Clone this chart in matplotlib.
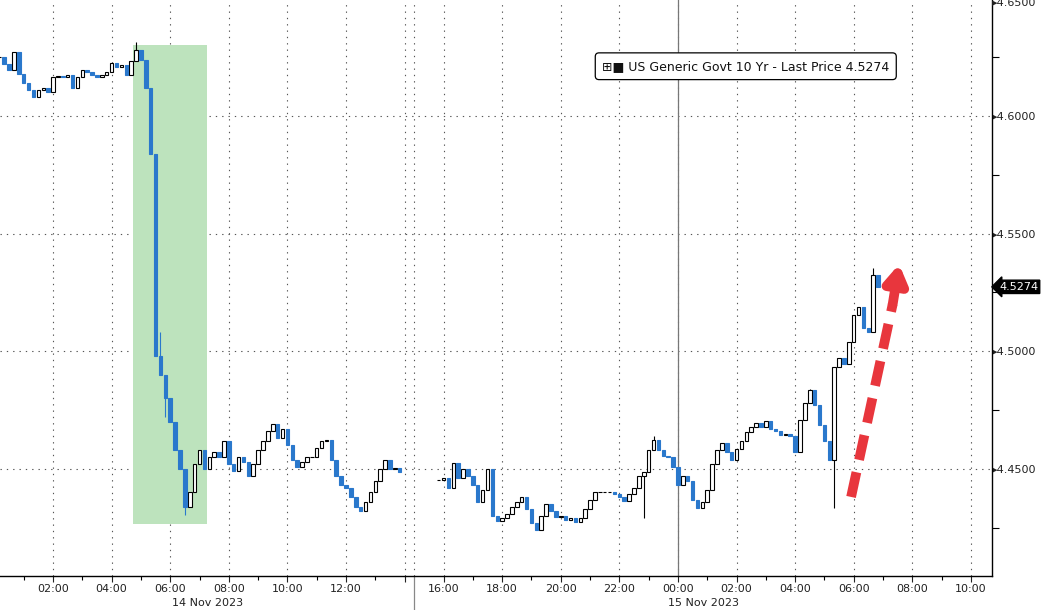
import matplotlib.pyplot as plt
import matplotlib.transforms as mtransforms
from matplotlib.patches import Rectangle
import numpy as np
import pandas as pd

# --- data: 10-min closes of US 10Y yield, two sessions ---
closes_1 = [
    4.6250, 4.6220, 4.6195, 4.6270, 4.6180, 4.6140, 4.6110, 4.6080, 4.6110, 4.6120,
    4.6100, 4.6165, 4.6170, 4.6165, 4.6175, 4.6120, 4.6165, 4.6195, 4.6185, 4.6175,
    4.6165, 4.6175, 4.6185, 4.6225, 4.6210, 4.6215, 4.6175, 4.6235, 4.6280, 4.6240,
    4.6120, 4.5840, 4.4980, 4.4900, 4.4800, 4.4700, 4.4580, 4.4500, 4.4340, 4.4400,
    4.4520, 4.4580, 4.4500, 4.4550, 4.4570, 4.4550, 4.4620, 4.4520, 4.4490, 4.4550,
    4.4530, 4.4470, 4.4520, 4.4580, 4.4620, 4.4660, 4.4690, 4.4630, 4.4670, 4.4600,
    4.4540, 4.4510, 4.4530, 4.4550, 4.4550, 4.4590, 4.4620, 4.4625, 4.4540, 4.4470,
    4.4430, 4.4420, 4.4380, 4.4340, 4.4320, 4.4360, 4.4400, 4.4450, 4.4500, 4.4540,
    4.4500, 4.4505, 4.4485]
closes_2 = [
    4.4455, 4.4460, 4.4420, 4.4525, 4.4460, 4.4500, 4.4470, 4.4430, 4.4360, 4.4410,
    4.4500, 4.4300, 4.4280, 4.4290, 4.4310, 4.4340, 4.4360, 4.4380, 4.4330, 4.4270,
    4.4240, 4.4300, 4.4350, 4.4320, 4.4295, 4.4300, 4.4285, 4.4290, 4.4275, 4.4290,
    4.4330, 4.4370, 4.4400, 4.4400, 4.4400, 4.4400, 4.4395, 4.4380, 4.4365, 4.4395,
    4.4420, 4.4470, 4.4485, 4.4580, 4.4625, 4.4580, 4.4555, 4.4550, 4.4510, 4.4430,
    4.4470, 4.4450, 4.4370, 4.4335, 4.4360, 4.4410, 4.4520, 4.4580, 4.4610, 4.4570,
    4.4540, 4.4585, 4.4620, 4.4655, 4.4680, 4.4695, 4.4680, 4.4705, 4.4670, 4.4660,
    4.4645, 4.4650, 4.4640, 4.4570, 4.4710, 4.4780, 4.4835, 4.4770, 4.4685, 4.4620,
    4.4540, 4.4935, 4.4970, 4.4945, 4.5040, 4.5155, 4.5190, 4.5100, 4.5080, 4.5325,
    4.5274]
# (bar index, low, high) for visible wicks
wicks_1 = [(28, None, 4.6315), (33, None, 4.5080), (34, 4.4720, None), (38, 4.4305, None)]
wicks_2 = [(42, 4.4290, None), (44, None, 4.4640), (76, None, 4.4840),
           (81, 4.4335, None), (89, None, 4.5355)]

start_1 = '2023-11-14 00:10'
start_2 = '2023-11-14 15:50'
last_price = 4.5274

# session break on the time axis (hours since 14 Nov 00:00)
BREAK_START = 14.33
BREAK_LEN = 0.67

highlight_t = (4.73, 7.26)
highlight_y = (4.4266, 4.6302)

tick_hours = [2, 4, 6, 8, 10, 12, 14, 16, 18, 20, 22, 24, 26, 28, 30, 32, 34]
minor_hours = [1, 3, 5, 7, 9, 11, 13, 17, 19, 21, 23, 25, 27, 29, 31, 33]
y_major = [4.45, 4.50, 4.55, 4.60]
y_minor = [4.425, 4.475, 4.525, 4.575, 4.625]

DOWN_COL = '#2a78cc'


def compress(h):
    h = np.asarray(h, dtype=float)
    return np.where(h < BREAK_START, h, h - BREAK_LEN)


def hours_since(start, n):
    idx = pd.date_range(start, periods=n, freq='10min')
    return ((idx - pd.Timestamp('2023-11-14')) / pd.Timedelta(hours=1)).values


fig = plt.figure(figsize=(10.42, 6.10), dpi=100)
ax = fig.add_axes([0, 34 / 610, 992 / 1042, 576 / 610])

ax.add_patch(Rectangle((float(compress(highlight_t[0])), highlight_y[0]),
                       highlight_t[1] - highlight_t[0], highlight_y[1] - highlight_y[0],
                       facecolor='#bde3bd', edgecolor='none', zorder=1))


def draw_candles(start, closes, wicks):
    c = np.array(closes)
    o = np.r_[c[0], c[:-1]]
    x = compress(hours_since(start, len(c)))
    hi = np.maximum(o, c)
    lo = np.minimum(o, c)
    for i, l, h in wicks:
        if l is not None:
            lo[i] = l
        if h is not None:
            hi[i] = h
    up = c >= o
    w = 0.12
    ax.vlines(x[up], lo[up], hi[up], color='black', lw=0.8, zorder=3)
    ax.vlines(x[~up], lo[~up], hi[~up], color=DOWN_COL, lw=0.8, zorder=3)
    ax.bar(x[up], (c - o)[up], bottom=o[up], width=w, facecolor='white',
           edgecolor='black', linewidth=0.8, zorder=4)
    ax.bar(x[~up], (c - o)[~up], bottom=o[~up], width=w, facecolor=DOWN_COL,
           edgecolor=DOWN_COL, linewidth=0.8, zorder=4)


draw_candles(start_1, closes_1, wicks_1)
draw_candles(start_2, closes_2, wicks_2)

x_lo, x_hi = 0.19, 34.05
ax.set_xlim(x_lo, x_hi)
ax.set_ylim(4.4045, 4.6493)

# grid and separators
grid_kw = dict(color='#555555', lw=0.8, ls=(0, (1.2, 4.5)), zorder=0)
for h in tick_hours:
    ax.axvline(float(compress(h)), **grid_kw)
ax.axvline(BREAK_START, **grid_kw)
for v in y_major:
    ax.axhline(v, **grid_kw)
ax.axvline(float(compress(24)), color='#777777', lw=0.9, zorder=0.5)
trans = mtransforms.blended_transform_factory(ax.transData, ax.transAxes)
ax.plot([BREAK_START, BREAK_START], [0, -0.06], color='#888888', lw=0.9,
        transform=trans, clip_on=False)

# x axis
ax.set_xticks(compress(tick_hours))
ax.set_xticklabels(['' if h == 14 else '%02d:00' % (h % 24) for h in tick_hours])
ax.set_xticks(compress(minor_hours), minor=True)
ax.tick_params(axis='x', which='major', length=4, width=0.8, labelsize=8, pad=1.5,
               colors='#222222')
ax.tick_params(axis='x', which='minor', length=3, width=0.8)

date_trans = mtransforms.blended_transform_factory(ax.transData, fig.transFigure)
ax.text((x_lo + BREAK_START) / 2, 0.003, '14 Nov 2023', transform=date_trans,
        ha='center', va='bottom', fontsize=8, color='#222222')
ax.text((BREAK_START + x_hi) / 2, 0.003, '15 Nov 2023', transform=date_trans,
        ha='center', va='bottom', fontsize=8, color='#222222')

# y axis on the right
ax.yaxis.tick_right()
ax.set_yticks(y_major)
ax.set_yticklabels(['\u25b8%.4f' % v for v in y_major])
ax.set_yticks(y_minor, minor=True)
ax.tick_params(axis='y', which='major', length=0, pad=0, labelsize=8, colors='#222222')
ax.tick_params(axis='y', which='minor', length=5, width=0.8)
ytrans = mtransforms.blended_transform_factory(ax.transAxes, ax.transData)
ax.text(1.0, 4.6480, '\u25b84.6500', transform=ytrans, ha='left', va='center',
        fontsize=8, color='#222222', clip_on=False)

for s in ['top', 'left']:
    ax.spines[s].set_visible(False)
ax.spines['right'].set_linewidth(1.0)
ax.spines['bottom'].set_linewidth(1.0)

# last price tag
ax.annotate('%.4f' % last_price, xy=(1.0, last_price), xycoords=ytrans,
            xytext=(5, 0), textcoords='offset points', ha='left', va='center',
            fontsize=8, color='white',
            bbox=dict(boxstyle='larrow,pad=0.15', fc='black', ec='black'),
            annotation_clip=False)

# legend box
ax.text(0.607, 0.885, '\u229e\u25a0 US Generic Govt 10 Yr - Last Price %.4f' % last_price,
        transform=ax.transAxes, ha='left', va='center', fontsize=9, color='#111111',
        bbox=dict(boxstyle='round,pad=0.55,rounding_size=0.3', fc='white',
                  ec='black', lw=0.9), zorder=6)

# red dashed arrow
arr_start = (29.24, 4.4381)
arr_shaft_end = (30.66, 4.5200)
arr_tip = (30.88, 4.5370)
ax.plot([arr_start[0], arr_shaft_end[0]], [arr_start[1], arr_shaft_end[1]],
        color='#e8363d', lw=7, ls=(0, (2.6, 1.3)), solid_capstyle='butt', zorder=5)
ax.annotate('', xy=arr_tip, xytext=arr_shaft_end,
            arrowprops=dict(arrowstyle='-|>,head_width=0.5,head_length=0.8',
                            color='#e8363d', lw=7, shrinkA=0, shrinkB=0,
                            mutation_scale=13), zorder=5)

fig.savefig('out.png', dpi=100)
